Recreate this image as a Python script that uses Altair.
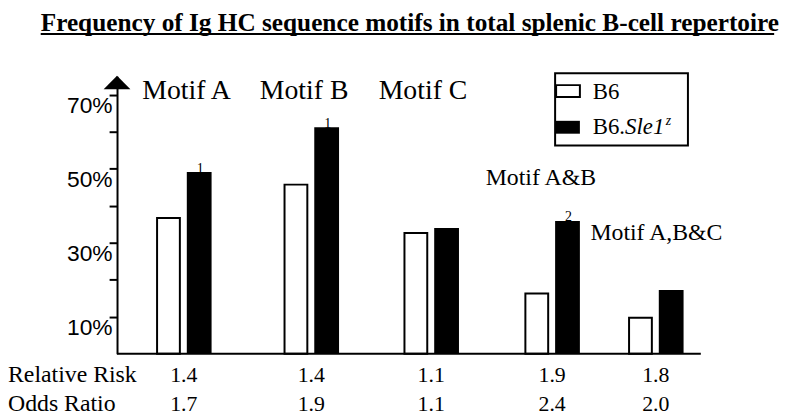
import altair as alt
import pandas as pd

# ---------------- data ----------------
categories = ["Motif A", "Motif B", "Motif C", "Motif A&B", "Motif A,B&C"]
b6 = [36.7, 45.7, 32.6, 16.3, 9.7]          # % B6 (open bars)
sle1z = [49.1, 61.2, 34.0, 35.9, 17.2]      # % B6.Sle1z (filled bars)
notes = ["1", "1", "", "2", ""]             # footnote marks above filled bars
relative_risk = ["1.4", "1.4", "1.1", "1.9", "1.8"]
odds_ratio = ["1.7", "1.9", "1.1", "2.4", "2.0"]
series = ["B6", "B6.Sle1z"]
tick_values = [10, 20, 30, 40, 50, 60, 70]

idx = list(range(len(categories)))
df = pd.DataFrame({
    "idx": idx, "category": categories, "b6": b6, "sle": sle1z,
    "note": notes, "rr": relative_risk, "or": odds_ratio,
})
one = pd.DataFrame({"k": [0]})

# ---------------- layout / style ----------------
W, H = 589, 280
SERIF = "Liberation Serif"
SANS = "Liberation Sans"

xscale = alt.Scale(domain=idx, range=[62, 196, 317, 439, 548], zero=False, nice=False)
yscale = alt.Scale(domain=[0, 75], zero=False, nice=False)
X = alt.X("idx:Q", scale=xscale, axis=None)

yaxis = alt.Axis(
    values=tick_values,
    labelExpr="datum.value % 20 == 10 ? datum.value + '%' : ''",
    tickSize=8, tickWidth=2, tickColor="black",
    domainColor="black", domainWidth=2,
    labelFont=SANS, labelFontSize=23, labelColor="black",
    labelBaseline="top", labelPadding=-3, labelFlush=False,
    labelOverlap=False, labelBound=False, grid=False, title=None,
)

base = alt.Chart(df)

white_bars = base.mark_bar(
    orient="vertical", size=23, xOffset=-15.5, fill="white",
    stroke="black", strokeWidth=2,
).encode(x=X, y=alt.Y("b6:Q", scale=yscale, axis=yaxis, title=None))

black_bars = base.mark_bar(
    orient="vertical", size=25, xOffset=15.5, fill="black", stroke="black", strokeWidth=0,
).encode(x=X, y=alt.Y("sle:Q", scale=yscale, axis=yaxis, title=None))

baseline = alt.Chart(one).mark_rule(color="black", strokeWidth=2).encode(
    x=alt.value(0), x2=alt.value(W), y=alt.value(H)
)

arrow = alt.Chart(one).mark_point(
    shape="M0,-0.5L1,0.5L-1,0.5Z", size=729, filled=True, color="black", opacity=1,
).encode(x=alt.value(0), y=alt.value(6.3))

note_text = base.transform_filter(alt.datum.note != "").mark_text(
    font=SERIF, fontSize=14, dx=16.5, dy=0.5, align="center", baseline="alphabetic", color="black",
).encode(x=X, y=alt.Y("sle:Q", scale=yscale, axis=yaxis, title=None), text="note:N")

# category labels (style offsets only)
label_style = [
    (0, 28, -42, 23), (1, 28, -52, 23), (2, 28, -53, 23),
    (3, 24, -67, 110), (4, 24, -66, 165),
]
cat_labels = []
for i, fs, dx, ypix in label_style:
    cat_labels.append(
        base.transform_filter(alt.datum.idx == i).mark_text(
            font=SERIF, fontSize=fs, align="left", baseline="alphabetic", dx=dx, color="black",
        ).encode(x=X, y=alt.value(ypix), text="category:N")
    )

# bottom table
rr_text = base.mark_text(font=SERIF, fontSize=22, align="center", baseline="alphabetic", color="black").encode(
    x=X, y=alt.value(309), text="rr:N")
or_text = base.mark_text(font=SERIF, fontSize=22, align="center", baseline="alphabetic", color="black").encode(
    x=X, y=alt.value(338), text="or:N")
rr_label = alt.Chart(one).mark_text(text="Relative Risk", font=SERIF, fontSize=24, align="left",
                                   baseline="alphabetic", color="black").encode(x=alt.value(-110), y=alt.value(309))
or_label = alt.Chart(one).mark_text(text="Odds Ratio", font=SERIF, fontSize=24, align="left",
                                   baseline="alphabetic", color="black").encode(x=alt.value(-110), y=alt.value(338))

# title with underline
title = alt.Chart(one).mark_text(
    text="Frequency of Ig HC sequence motifs in total splenic B-cell repertoire",
    font=SERIF, fontSize=25.5, fontWeight="bold", align="left", baseline="alphabetic", color="black",
).encode(x=alt.value(-77), y=alt.value(-46))
underline = alt.Chart(one).mark_rule(color="black", strokeWidth=2).encode(
    x=alt.value(-77), x2=alt.value(663), y=alt.value(-42.5))

# hand-built legend
leg_box = alt.Chart(one).mark_rect(fill="white", stroke="black", strokeWidth=2).encode(
    x=alt.value(442), x2=alt.value(576), y=alt.value(-3), y2=alt.value(70))
leg_sw1 = alt.Chart(one).mark_rect(fill="white", stroke="black", strokeWidth=2).encode(
    x=alt.value(443), x2=alt.value(467), y=alt.value(9), y2=alt.value(21))
leg_sw2 = alt.Chart(one).mark_rect(fill="black").encode(
    x=alt.value(442), x2=alt.value(467), y=alt.value(45), y2=alt.value(58))
leg_t1 = alt.Chart(one).mark_text(text=series[0], font=SERIF, fontSize=23, align="left",
                                 baseline="alphabetic", color="black").encode(x=alt.value(480), y=alt.value(23))
leg_t2a = alt.Chart(one).mark_text(text="B6.", font=SERIF, fontSize=23, align="left",
                                  baseline="alphabetic", color="black").encode(x=alt.value(480), y=alt.value(58))
leg_t2b = alt.Chart(one).mark_text(text="Sle1", font=SERIF, fontSize=23, fontStyle="italic", align="left",
                                  baseline="alphabetic", color="black").encode(x=alt.value(512.6), y=alt.value(58))
leg_t2c = alt.Chart(one).mark_text(text="z", font=SERIF, fontSize=14, fontStyle="italic", align="left",
                                  baseline="alphabetic", color="black").encode(x=alt.value(553.5), y=alt.value(49))

chart = alt.layer(
    white_bars, black_bars, note_text, baseline, arrow, *cat_labels,
    rr_text, or_text, rr_label, or_label, title, underline,
    leg_box, leg_sw1, leg_sw2, leg_t1, leg_t2a, leg_t2b, leg_t2c,
).properties(
    width=W, height=H,
    autosize=alt.AutoSizeParams(type="none"),
    padding={"left": 110, "top": 67, "right": 92, "bottom": 61},
    background="white",
).configure_view(stroke=None)

chart.save("out.html", embed_options={"renderer": "svg", "actions": False})
